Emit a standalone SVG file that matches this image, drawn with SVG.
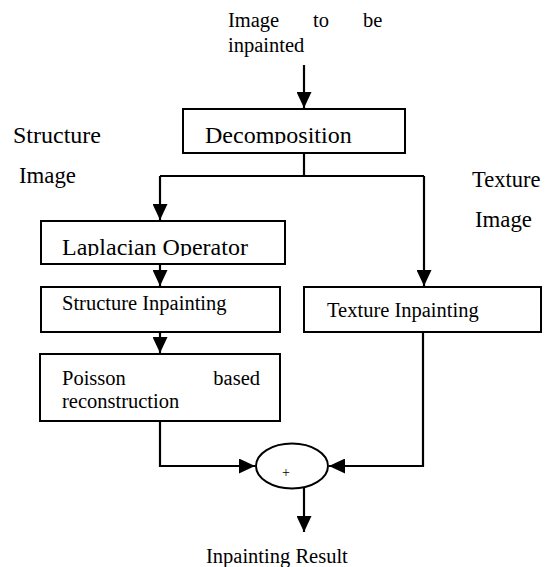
<svg xmlns="http://www.w3.org/2000/svg" width="549" height="567" viewBox="0 0 549 567">
<style>
text{font-family:"Liberation Serif","Times New Roman","DejaVu Serif",serif;fill:#000}
.s{font-size:20.5px}
.l{font-size:24px}
.m{font-size:22.8px}
.box{fill:#fff;stroke:#000;stroke-width:2}
.ln{fill:none;stroke:#000;stroke-width:2.2}
</style>
<defs>
<marker id="ah" viewBox="0 0 16 15" refX="16" refY="7.5" markerWidth="16" markerHeight="15" markerUnits="userSpaceOnUse" orient="auto">
<path d="M0,0 L16,7.5 L0,15 Z" fill="#000"/>
</marker>
<clipPath id="cDec"><rect x="183" y="109" width="222" height="35"/></clipPath>
<clipPath id="cLap"><rect x="41" y="221" width="244" height="35"/></clipPath>
<clipPath id="cPlus"><rect x="275" y="468" width="25" height="12"/></clipPath>
</defs>
<g id="labels">
<text class="s" x="228" y="27">Image</text>
<text class="s" x="313" y="27">to</text>
<text class="s" x="363" y="27">be</text>
<text class="s" x="228" y="52">inpainted</text>
<text class="l" x="13" y="143">Structure</text>
<text class="m" x="19" y="183">Image</text>
<text class="m" x="472" y="187" style="font-size:22.5px">Texture</text>
<text class="m" x="475" y="227">Image</text>
<text class="s" x="206" y="563">Inpainting Result</text>
</g>
<g id="connectors">
<line class="ln" x1="304" y1="65" x2="304" y2="108" marker-end="url(#ah)"/>
<polyline class="ln" points="304,153 304,176"/>
<polyline class="ln" points="160,176 424,176"/>
<line class="ln" x1="160" y1="176" x2="160" y2="220" marker-end="url(#ah)"/>
<line class="ln" x1="424" y1="176" x2="424" y2="286" marker-end="url(#ah)"/>
<line class="ln" x1="160" y1="264" x2="160" y2="286" marker-end="url(#ah)"/>
<line class="ln" x1="160" y1="332" x2="160" y2="353" marker-end="url(#ah)"/>
<polyline class="ln" points="160,421 160,466 255,466" marker-end="url(#ah)"/>
<polyline class="ln" points="423,332 423,466 329,466" marker-end="url(#ah)"/>
<line class="ln" x1="304" y1="487" x2="304" y2="532" marker-end="url(#ah)"/>
</g>
<g id="decomposition">
<rect class="box" x="183" y="109" width="222" height="44"/>
<text class="l" x="205" y="143" clip-path="url(#cDec)">Decomposition</text>
</g>
<g id="laplacian">
<rect class="box" x="41" y="221" width="244" height="43"/>
<text class="l" x="62" y="255" clip-path="url(#cLap)">Laplacian Operator</text>
</g>
<g id="structure-inpainting">
<rect class="box" x="41" y="287" width="239" height="45"/>
<text class="s" x="62" y="310">Structure Inpainting</text>
</g>
<g id="texture-inpainting">
<rect class="box" x="304" y="287" width="237" height="45"/>
<text class="s" x="327" y="317">Texture Inpainting</text>
</g>
<g id="poisson">
<rect class="box" x="40" y="354" width="240" height="67"/>
<text class="s" x="62" y="385">Poisson</text>
<text class="s" x="260" y="385" text-anchor="end">based</text>
<text class="s" x="62" y="408">reconstruction</text>
</g>
<g id="sum">
<ellipse class="box" cx="292" cy="466" rx="36" ry="22.5"/>
<text x="286" y="477" text-anchor="middle" style="font-size:14px" clip-path="url(#cPlus)">+</text>
</g>
</svg>
